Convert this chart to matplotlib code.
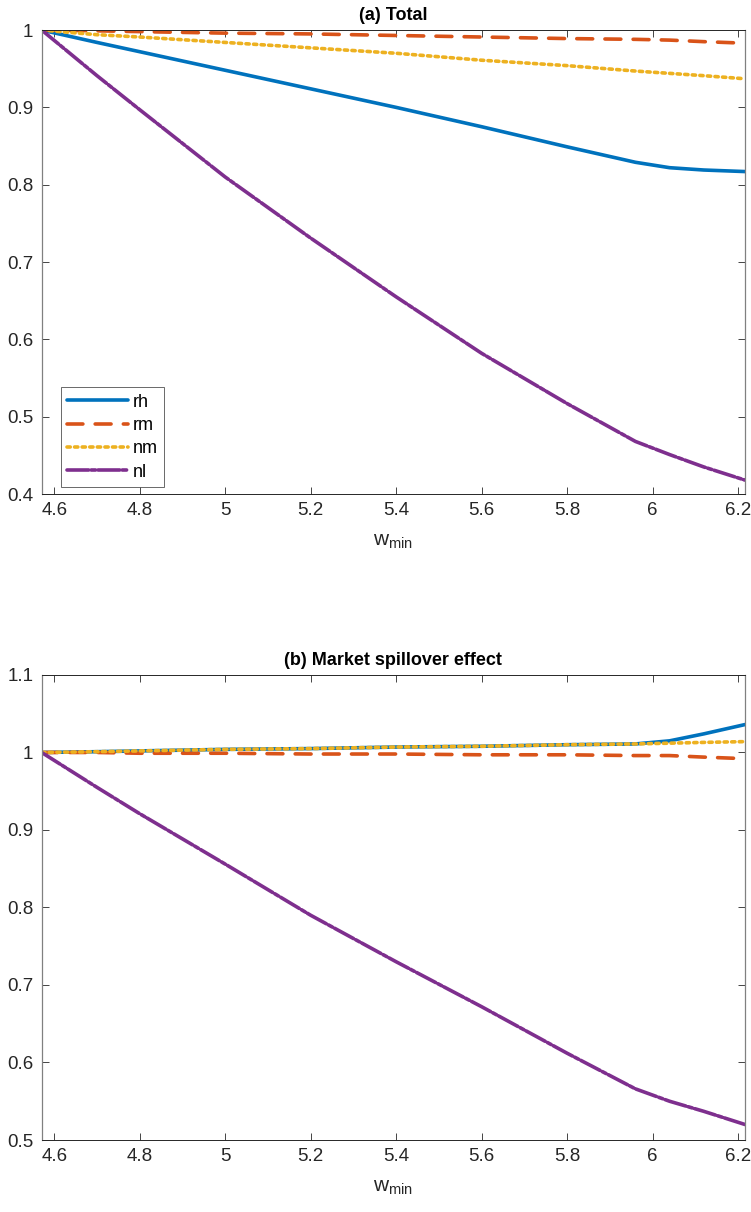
import numpy as np
import matplotlib.pyplot as plt

plt.rcParams['font.family'] = ['Liberation Sans', 'DejaVu Sans']
plt.rcParams['mathtext.fontset'] = 'custom'
plt.rcParams['mathtext.rm'] = 'Liberation Sans'
plt.rcParams['mathtext.it'] = 'Liberation Sans'

# w_min grid
wmin = [4.5706, 4.7, 4.8, 5.0, 5.2, 5.4, 5.6, 5.8, 5.96, 6.04, 6.12, 6.2164]

# (a) Total
tot_rh = [1.0, 0.984, 0.972, 0.948, 0.924, 0.900, 0.875, 0.849, 0.829, 0.822, 0.819, 0.817]
tot_rm = [1.0, 0.999, 0.998, 0.996, 0.995, 0.993, 0.991, 0.989, 0.988, 0.987, 0.985, 0.983]
tot_nm = [1.0, 0.994, 0.991, 0.984, 0.977, 0.970, 0.961, 0.954, 0.947, 0.944, 0.941, 0.937]
tot_nl = [1.0, 0.941, 0.897, 0.810, 0.731, 0.655, 0.582, 0.517, 0.468, 0.451, 0.435, 0.418]

# (b) Market spillover effect
spl_rh = [1.0, 1.001, 1.002, 1.004, 1.005, 1.007, 1.008, 1.010, 1.011, 1.015, 1.024, 1.036]
spl_rm = [1.0, 1.0, 0.999, 0.999, 0.998, 0.998, 0.997, 0.997, 0.996, 0.996, 0.994, 0.992]
spl_nm = [1.0, 1.001, 1.002, 1.004, 1.005, 1.007, 1.008, 1.010, 1.011, 1.012, 1.013, 1.014]
spl_nl = [1.0, 0.955, 0.921, 0.856, 0.790, 0.730, 0.672, 0.612, 0.566, 0.550, 0.537, 0.520]

names = ['rh', 'rm', 'nm', 'nl']
cols = ['#0072BD', '#D95319', '#EDB120', '#7E2F8E']
styles = ['-', (0, (4.4, 3.4)), (0, (0.9, 1.2)), (0, (6, 0.7, 1.2, 0.7))]
xt = [4.6, 4.8, 5.0, 5.2, 5.4, 5.6, 5.8, 6.0, 6.2]
xtl = ['4.6', '4.8', '5', '5.2', '5.4', '5.6', '5.8', '6', '6.2']

fig = plt.figure(figsize=(7.51, 12.12), dpi=100)
ax1 = fig.add_axes([0.0555, 0.5924, 0.9365, 0.3828])
ax2 = fig.add_axes([0.0555, 0.0594, 0.9365, 0.3837])

def draw(ax, series, title, ylim, yt, ytl):
    for y, n, c, s in zip(series, names, cols, styles):
        ax.plot(wmin, y, color=c, linestyle=s, lw=2.6, label=n,
                dash_capstyle='round', solid_capstyle='round')
    ax.set_xlim(4.5706, 6.2164)
    ax.set_ylim(*ylim)
    ax.set_xticks(xt)
    ax.set_xticklabels(xtl)
    ax.set_yticks(yt)
    ax.set_yticklabels(ytl)
    ax.tick_params(direction='in', top=True, right=True, length=5, width=0.6,
                   labelsize=13.5, colors='#262626', pad=6)
    for sp in ['top', 'bottom']:
        ax.spines[sp].set_color('#262626')
        ax.spines[sp].set_linewidth(0.7)
    for sp in ['left', 'right']:
        ax.spines[sp].set_color('#808080')
        ax.spines[sp].set_linewidth(0.9)
    ax.set_title(title, fontsize=13, fontweight='bold', pad=7)
    ax.set_xlabel(r'$\mathrm{w}_{\mathrm{min}}$', fontsize=15, color='#262626', labelpad=9)

draw(ax1, [tot_rh, tot_rm, tot_nm, tot_nl], '(a) Total', (0.4, 1.0),
     [0.4, 0.5, 0.6, 0.7, 0.8, 0.9, 1.0], ['0.4', '0.5', '0.6', '0.7', '0.8', '0.9', '1'])
draw(ax2, [spl_rh, spl_rm, spl_nm, spl_nl], '(b) Market spillover effect', (0.5, 1.1),
     [0.5, 0.6, 0.7, 0.8, 0.9, 1.0, 1.1], ['0.5', '0.6', '0.7', '0.8', '0.9', '1', '1.1'])

leg = ax1.legend(loc='lower left', bbox_to_anchor=(0.027, 0.015), borderaxespad=0,
                 fancybox=False, edgecolor='#262626', fontsize=13, handlelength=3.4,
                 handletextpad=0.25, labelspacing=0.35, borderpad=0.35)
leg.get_frame().set_linewidth(0.6)

fig.savefig('out.png', dpi=100)
